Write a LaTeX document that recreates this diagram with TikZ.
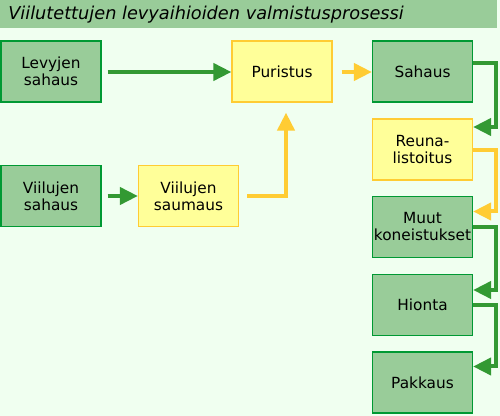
\documentclass[tikz,border=0pt]{standalone}
\usepackage{fontspec}
\setmainfont{DejaVu Sans}
\usetikzlibrary{arrows.meta,calc}
\definecolor{bg}{HTML}{F0FFF0}
\definecolor{gfill}{HTML}{99CC99}
\definecolor{gline}{HTML}{009933}
\definecolor{garr}{HTML}{339933}
\definecolor{yfill}{HTML}{FFFF99}
\definecolor{yline}{HTML}{FFCC33}
\tikzset{
  box/.style={draw, line width=0.9pt, minimum width=75pt, minimum height=45.75pt,
    inner sep=0.5pt, align=center, font=\fontsize{11.5pt}{12.75pt}\selectfont, text=black},
  gbox/.style={box, fill=gfill, draw=gline},
  ybox/.style={box, fill=yfill, draw=yline},
  arr/.style={line width=3pt, -{Triangle[length=13.5pt,width=12.75pt]}},
  garrow/.style={arr, draw=garr},
  yarrow/.style={arr, draw=yline},
}
\begin{document}
\begin{tikzpicture}[x=0.75pt,y=-0.75pt]
\useasboundingbox (0,0) rectangle (500,416);
\fill[bg] (0,0) rectangle (500,416);
\fill[gfill] (0,0) rectangle (497,28);
\node[anchor=base west, inner sep=0, font=\fontsize{13.3pt}{15pt}\selectfont\itshape] (title) at (8,20) {Viilutettujen levyaihioiden valmistusprosessi};

\node[gbox] (lev) at (51,71.5) {Levyjen\\sahaus};
\node[ybox] (pur) at (282,71.5) {Puristus};
\node[gbox] (sah) at (422.5,71.5) {Sahaus};
\node[ybox] (reu) at (422.5,149.5) {Reuna-\\listoitus};
\node[gbox] (muu) at (422.5,227) {Muut\\koneistukset};
\node[gbox] (hio) at (422.5,305) {Hionta};
\node[gbox] (pak) at (422.5,382.5) {Pakkaus};
\node[gbox] (vsa) at (51,196) {Viilujen\\sahaus};
\node[ybox] (vsm) at (188.5,196) {Viilujen\\saumaus};

\draw[garrow] ($(lev.east)+(6,0.5)$) -- ($(pur.west)+(0,0.5)$);
\draw[garrow] ($(vsa.east)+(6,0)$) -- (vsm.west);
\draw[yarrow] ($(vsm.east)+(8,0)$) -| ($(pur.south)+(4,10)$);
\draw[yarrow] ($(pur.east)+(9,0.5)$) -- ($(sah.west)+(0,0.5)$);
\draw[garrow] ($(sah.east)+(0,-8)$) -- ++(23,0) |- ($(reu.east)+(0,-22.5)$);
\draw[yarrow] ($(reu.east)+(0,1)$) -- ++(23,0) |- ($(muu.east)+(0,-15.5)$);
\draw[garrow] ($(muu.east)+(0,0)$) -- ++(23,0) |- ($(hio.east)+(0,-15)$);
\draw[garrow] ($(hio.east)+(0,0)$) -- ++(23,0) |- ($(pak.east)+(0,-16)$);
\end{tikzpicture}
\end{document}
